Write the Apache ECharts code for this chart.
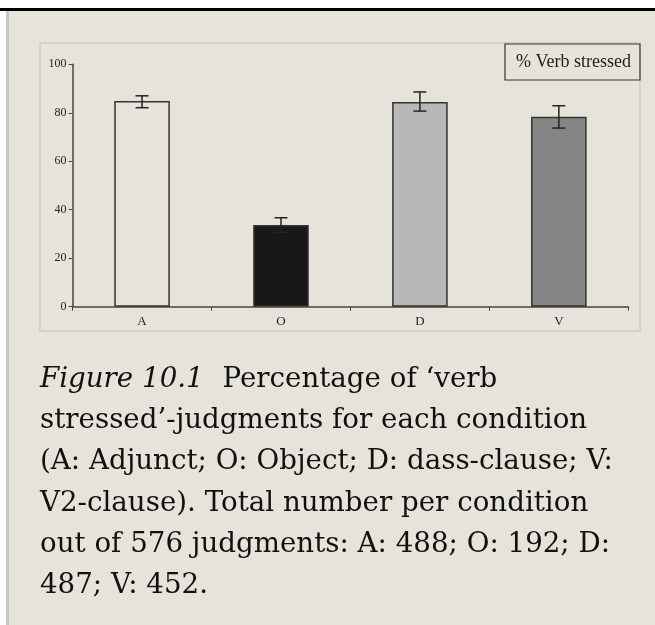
<!DOCTYPE html>
<html>
<head>
<meta charset="utf-8">
<script src="https://cdn.jsdelivr.net/npm/echarts@6/dist/echarts.min.js"></script>
<style>
  html, body { margin: 0; padding: 0; background: #fff; }
  #page { position: relative; width: 655px; height: 625px; overflow: hidden; }
  #chart { position: absolute; left: 0; top: 0; width: 655px; height: 625px; }
  #caption {
    position: absolute; left: 40px; top: 357px; width: 612px; white-space: nowrap;
    font-family: "DejaVu Serif", serif; font-size: 27.7px; line-height: 41.2px; color: #111;
  }
  #caption i { margin-right: 10px; }
</style>
</head>
<body>
<div id="page">
  <div id="chart"></div>
  <div id="caption"><i>Figure 10.1</i> Percentage of ‘verb<br>stressed’-judgments for each condition<br>(A: Adjunct; O: Object; D: dass-clause; V:<br>V2-clause). Total number per condition<br>out of 576 judgments: A: 488; O: 192; D:<br>487; V: 452.</div>
</div>
<script>
// values
const categories = ["A", "O", "D", "V"];
const verbStressed = [84.9, 33.7, 84.4, 78.4];
const errLow = [82.1, 30.7, 80.7, 73.7];
const errHigh = [87.0, 36.7, 88.6, 82.9];
const barColors = ["#e6e4da", "#181818", "#b8b8b8", "#858585"];
const yTicks = { min: 0, max: 100, interval: 20 };

const bg = "#e6e4da";
let chart = echarts.init(document.getElementById("chart"));

let errData = categories.map((c, i) => [i, errLow[i], errHigh[i]]);

chart.setOption({
  animation: false,
  backgroundColor: "transparent",
  graphic: [
    // page background + borders
    { type: "rect", shape: { x: 8, y: 10, width: 660, height: 620 }, style: { fill: bg }, z: -10 },
    { type: "rect", shape: { x: 0, y: 8, width: 655, height: 3 }, style: { fill: "#000" }, z: -9 },
    { type: "rect", shape: { x: 6, y: 11, width: 3, height: 620 }, style: { fill: "#c8c8c8" }, z: -9 },
    // chart frame
    { type: "rect", shape: { x: 40, y: 43, width: 600, height: 288 }, style: { fill: "none", stroke: "#d2d2d2", lineWidth: 2 }, z: -8 }
  ],
  legend: {
    data: ["% Verb stressed"],
    left: 505, top: 44,
    icon: "none", itemWidth: 0, itemHeight: 0,
    padding: [9, 9, 9, 6],
    borderColor: "#333", borderWidth: 1.2,
    backgroundColor: bg,
    selectedMode: false,
    textStyle: { fontFamily: "Liberation Serif", fontSize: 18, color: "#222" }
  },
  grid: { left: 72.6, right: 26.7, top: 64.3, bottom: 318.3 },
  xAxis: {
    type: "category",
    data: categories,
    axisLine: { lineStyle: { color: "#444", width: 1.5 } },
    axisTick: { show: true, length: 4, lineStyle: { color: "#444" } },
    axisLabel: { fontFamily: "Liberation Serif", fontSize: 13, color: "#222", margin: 8 }
  },
  yAxis: {
    type: "value",
    min: yTicks.min, max: yTicks.max, interval: yTicks.interval,
    splitLine: { show: false },
    axisLine: { show: true, lineStyle: { color: "#444", width: 1.5 } },
    axisTick: { show: true, length: 4, lineStyle: { color: "#444" } },
    axisLabel: { fontFamily: "Liberation Serif", fontSize: 12, color: "#222", margin: 6 }
  },
  series: [
    {
      name: "% Verb stressed",
      type: "bar",
      barWidth: "40%",
      data: verbStressed.map((v, i) => ({
        value: v,
        itemStyle: { color: barColors[i] }
      })),
      itemStyle: { borderColor: "#333", borderWidth: 1.5 }
    },
    {
      type: "custom",
      name: "err",
      data: errData,
      z: 10,
      renderItem: function (params, api) {
        let x = api.value(0);
        let lo = api.coord([x, api.value(1)]);
        let hi = api.coord([x, api.value(2)]);
        let half = 6.5;
        let st = { stroke: "#222", lineWidth: 1.5 };
        return {
          type: "group",
          children: [
            { type: "line", shape: { x1: hi[0], y1: hi[1], x2: lo[0], y2: lo[1] }, style: st },
            { type: "line", shape: { x1: hi[0] - half, y1: hi[1], x2: hi[0] + half, y2: hi[1] }, style: st },
            { type: "line", shape: { x1: lo[0] - half, y1: lo[1], x2: lo[0] + half, y2: lo[1] }, style: st }
          ]
        };
      }
    }
  ]
});
</script>
</body>
</html>
